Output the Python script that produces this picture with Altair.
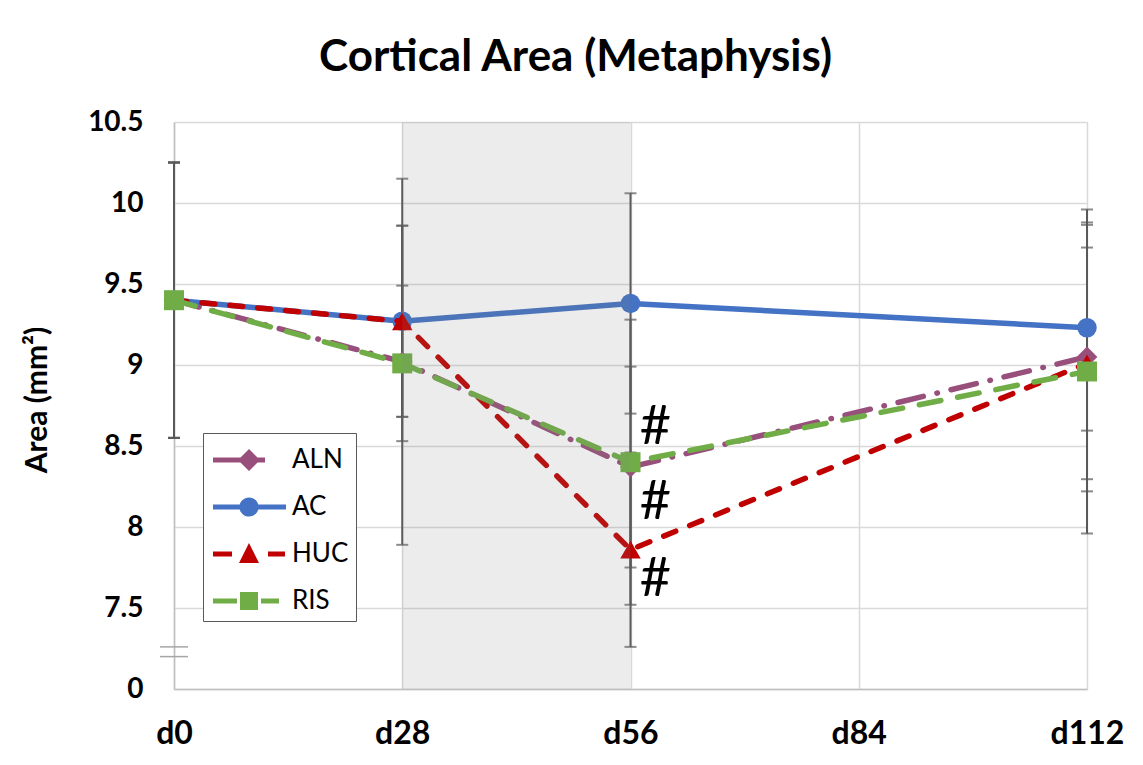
import altair as alt
import pandas as pd

# ---- data -----------------------------------------------------------------
days = [0, 28, 56, 112]
tick_days = [0, 28, 56, 84, 112]
groups = ["ALN", "AC", "HUC", "RIS"]

mean_aln = [9.40, 9.02, 8.37, 9.05]
mean_ac = [9.40, 9.27, 9.38, 9.23]
mean_huc = [9.40, 9.27, 7.86, 9.01]
mean_ris = [9.40, 9.01, 8.40, 8.96]

err_aln = [0.85, 1.13, 0.62, 0.83]
err_ac = [0.85, 0.59, 0.68, 0.635]
err_huc = [0.85, 0.59, 0.60, 0.715]
err_ris = [0.85, 0.48, 0.88, 1.00]

y_ticks = [7.0, 7.5, 8.0, 8.5, 9.0, 9.5, 10.0, 10.5]
shade_days = [28, 56]               # treatment window
break_marks = [7.20, 7.26]          # axis break between 0 and 7.5
hash_y = [8.61, 8.15, 7.67]         # significance markers at d56
hash_day = [56, 56, 56]

# ---- styling ----------------------------------------------------------------
colors = {"ALN": "#984F7B", "AC": "#4472C4", "HUC": "#C00000", "RIS": "#70AD47"}
dashes = {"ALN": [26, 14, 0.5, 14], "HUC": [13, 15], "RIS": [22, 17]}
shapes = {"ALN": "diamond", "AC": "circle", "HUC": "triangle-up", "RIS": "square"}
sizes = {"ALN": 430, "AC": 380, "HUC": 420, "RIS": 400}
FONT = "Lato"


def bar(x0, x1, h=0.13):
    return f"M{x0},{-h}H{x1}V{h}H{x0}Z"


legend_paths = {
    "ALN": bar(-0.85, 1.75) + "M0.95,-0.55L1.5,0L0.95,0.55L0.4,0Z",
    "AC": bar(-0.85, 2.8) + "M0.47,0A0.48,0.48 0 1 1 1.43,0A0.48,0.48 0 1 1 0.47,0Z",
    "HUC": bar(-0.85, 0.1) + "M0.95,-0.55L1.45,0.45L0.45,0.45Z" + bar(1.9, 2.75),
    "RIS": bar(-0.85, 0.35) + "M0.5,-0.45H1.4V0.45H0.5Z" + bar(1.55, 2.45),
}

means = {"ALN": mean_aln, "AC": mean_ac, "HUC": mean_huc, "RIS": mean_ris}
errs = {"ALN": err_aln, "AC": err_ac, "HUC": err_huc, "RIS": err_ris}

rows = []
for g in groups:
    for d, m, e in zip(days, means[g], errs[g]):
        rows.append({"group": g, "day": d, "value": m, "lo": m - e, "hi": m + e})
df = pd.DataFrame(rows)

W, H = 913, 567

x_scale = alt.Scale(domain=[0, 112], nice=False, zero=False)
y_scale = alt.Scale(domain=[7.0, 10.5], nice=False, zero=False)

x_enc = alt.X(
    "day:Q",
    scale=x_scale,
    axis=alt.Axis(
        values=tick_days,
        labelExpr="'d' + datum.value",
        labelFlush=False,
        title=None,
        ticks=False,
        tickSize=0,
        grid=True,
        gridColor="#D9D9D9",
        gridWidth=1.5,
        domainColor="#BFBFBF",
        domainWidth=1.5,
        labelFont=FONT,
        labelFontSize=32,
        labelFontWeight="bold",
        labelColor="#000000",
        labelPadding=29,
        labelBaseline="top",
    ),
)
y_enc = alt.Y(
    "value:Q",
    scale=y_scale,
    axis=alt.Axis(
        values=y_ticks,
        format="~g",
        labelExpr="datum.value == 7 ? '0' : datum.label",
        labelFlush=False,
        title="Area (mm²)",
        titleFont=FONT,
        titleFontSize=30,
        titleFontWeight="bold",
        titleColor="#000000",
        titleX=-137,
        titleY=H / 2 - 6,
        titleAngle=270,
        titleAlign="center",
        titleBaseline="middle",
        ticks=False,
        tickSize=0,
        grid=True,
        gridColor="#D9D9D9",
        gridWidth=1.5,
        domainColor="#BFBFBF",
        domainWidth=1.5,
        labelFont=FONT,
        labelFontSize=28,
        labelFontWeight="bold",
        labelColor="#000000",
        labelPadding=31,
    ),
)

base = alt.Chart(df)

# error bars (drawn beneath the series)
err_rule = base.mark_rule(color="#595959", strokeWidth=2).encode(
    x=x_enc, y=alt.Y("lo:Q", scale=y_scale), y2="hi:Q"
)
cap_lo = base.mark_tick(orient="horizontal", size=12, thickness=2, color="#595959").encode(
    x="day:Q", y=alt.Y("lo:Q", scale=y_scale)
)
cap_hi = base.mark_tick(orient="horizontal", size=12, thickness=2, color="#595959").encode(
    x="day:Q", y=alt.Y("hi:Q", scale=y_scale)
)

layers = [err_rule, cap_lo, cap_hi]

# one line + marker layer per group, in series order
for g in groups:
    sub = alt.Chart(df).transform_filter(alt.datum.group == g)
    line_kw = dict(color=colors[g], strokeWidth=5.5, strokeCap="round", strokeJoin="round")
    if g in dashes:
        line_kw["strokeDash"] = dashes[g]
    layers.append(sub.mark_line(**line_kw).encode(x=x_enc, y=y_enc))
    layers.append(
        sub.mark_point(shape=shapes[g], filled=True, opacity=1, size=sizes[g], color=colors[g]).encode(
            x="day:Q", y="value:Q"
        )
    )

# shaded treatment window, translucent over the series
shade_df = pd.DataFrame({"start": [shade_days[0]], "end": [shade_days[1]],
                         "ylo": [y_ticks[0]], "yhi": [y_ticks[-1]]})
shade = alt.Chart(shade_df).mark_rect(color="#7F7F7F", opacity=0.15).encode(
    x=alt.X("start:Q", scale=x_scale), x2="end:Q",
    y=alt.Y("ylo:Q", scale=y_scale), y2="yhi:Q",
)
layers.append(shade)

# axis-break marks
break_df = pd.DataFrame({"y": break_marks})
breaks = alt.Chart(break_df).mark_rule(color="#A6A6A6", strokeWidth=1.5).encode(
    y=alt.Y("y:Q", scale=y_scale), x=alt.value(-14), x2=alt.value(14)
)
layers.append(breaks)

# significance markers
hash_df = pd.DataFrame({"day": hash_day, "y": hash_y, "t": ["#"] * len(hash_y)})
hashes = alt.Chart(hash_df).mark_text(
    font=FONT, fontSize=54, dx=25, align="center", baseline="middle", color="#000000"
).encode(x=alt.X("day:Q", scale=x_scale), y=alt.Y("y:Q", scale=y_scale), text="t:N")
layers.append(hashes)

# legend: invisible points carrying the group colour / combined line+marker symbol
legend_props = dict(
    orient="none",
    legendX=29,
    legendY=311,
    title=None,
    symbolSize=1600,
    symbolStrokeWidth=0,
    symbolOpacity=1,
    labelFont=FONT,
    labelFontSize=26,
    labelColor="#000000",
    labelOffset=42,
    rowPadding=14,
    padding=7,
    strokeColor="#595959",
    fillColor="#FFFFFF",
)
legend_layer = base.mark_point(filled=True, opacity=0).encode(
    x="day:Q",
    y="value:Q",
    color=alt.Color("group:N", scale=alt.Scale(domain=groups, range=[colors[g] for g in groups]),
                    legend=alt.Legend(**legend_props)),
    shape=alt.Shape("group:N", scale=alt.Scale(domain=groups, range=[legend_paths[g] for g in groups]),
                    legend=alt.Legend(**legend_props)),
)
layers.append(legend_layer)

chart = alt.layer(*layers).properties(
    width=W,
    height=H,
    title=alt.TitleParams(
        "Cortical Area (Metaphysis)",
        font=FONT,
        fontSize=44,
        fontWeight="bold",
        color="#000000",
        anchor="middle",
        dx=-55,
        offset=28,
    ),
    autosize=alt.AutoSizeParams(type="none"),
    padding={"left": 174, "top": 122, "right": 56, "bottom": 76},
    background="#FFFFFF",
).configure_view(stroke=None)

chart.save("out.html", embed_options={"renderer": "svg", "actions": False})
